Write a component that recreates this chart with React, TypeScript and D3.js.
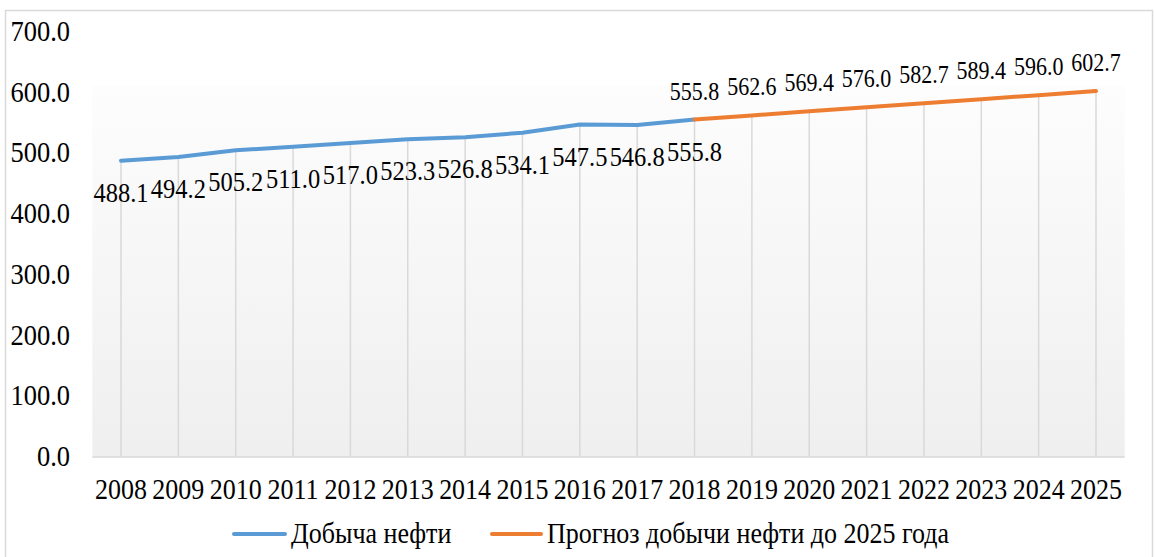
import React from "react";
import * as d3 from "d3";

const years = ["2008","2009","2010","2011","2012","2013","2014","2015","2016","2017","2018","2019","2020","2021","2022","2023","2024","2025"];
const histYears = ["2008","2009","2010","2011","2012","2013","2014","2015","2016","2017","2018"];
const histValues = [488.1, 494.2, 505.2, 511.0, 517.0, 523.3, 526.8, 534.1, 547.5, 546.8, 555.8];
const fcYears = ["2018","2019","2020","2021","2022","2023","2024","2025"];
const fcValues = [555.8, 562.6, 569.4, 576.0, 582.7, 589.4, 596.0, 602.7];
const yTicks = [0, 100, 200, 300, 400, 500, 600, 700];
const legendLabels = ["Добыча нефти", "Прогноз добычи нефти до 2025 года"];

const W = 1155, H = 557;
const FONT = "Times New Roman, Liberation Serif, DejaVu Serif, serif";
const BLUE = "#5b9bd5", ORANGE = "#ed7d31", GRID = "#d9d9d9";
const SY = 1.12;

function T({ x, y, anchor = "middle", size = 22, children }: any) {
  return (
    <text
      transform={`translate(${x},${y}) scale(1,${SY})`}
      textAnchor={anchor}
      style={{ fontFamily: FONT, fontSize: size }}
      fill="#000"
    >
      {children}
    </text>
  );
}

export default function App() {
  const x = d3.scalePoint<string>().domain(years).range([121, 1096]);
  const y = d3.scaleLinear().domain([0, 700]).range([457, 32]);
  const line = d3.line<[string, number]>().x(d => x(d[0])!).y(d => y(d[1]));
  const hist: [string, number][] = histYears.map((yr, i) => [yr, histValues[i]]);
  const fc: [string, number][] = fcYears.map((yr, i) => [yr, fcValues[i]]);
  const all: [string, number][] = [...hist, ...fc.slice(1)];
  const step = x.step();
  const left = x(years[0])! - step / 2;
  const right = x(years[years.length - 1])! + step / 2;

  return (
    <svg width={W} height={H} style={{ position: "absolute", left: 0, top: 0, background: "#fff" }}>
      <defs>
        <linearGradient id="pa" x1="0" y1="0" x2="0" y2="1">
          <stop offset="0%" stopColor="#fdfdfd" />
          <stop offset="100%" stopColor="#efefef" />
        </linearGradient>
      </defs>
      <rect x={5.5} y={10.5} width={1147} height={560} fill="#fff" stroke={GRID} strokeWidth={1.5} />
      <rect x={left} y={86} width={right - left} height={y(0) - 86} fill="url(#pa)" />
      {all.map(d => (
        <line key={"g" + d[0]} x1={x(d[0])} x2={x(d[0])} y1={y(d[1])} y2={y(0)} stroke={GRID} strokeWidth={1.5} />
      ))}
      <line x1={left} x2={right} y1={y(0)} y2={y(0)} stroke={GRID} strokeWidth={1.5} />
      {yTicks.map(t => (
        <T key={"y" + t} x={70} y={y(t) + 9} anchor="end" size={26.5}>{t.toFixed(1)}</T>
      ))}
      {years.map(yr => (
        <T key={"x" + yr} x={x(yr)} y={499} size={26}>{yr}</T>
      ))}
      <path d={line(hist)!} fill="none" stroke={BLUE} strokeWidth={4} strokeLinecap="round" strokeLinejoin="round" />
      <path d={line(fc)!} fill="none" stroke={ORANGE} strokeWidth={4} strokeLinecap="round" strokeLinejoin="round" />
      {hist.map(d => (
        <T key={"hl" + d[0]} x={x(d[0])} y={y(d[1]) + 41} size={24.5}>{d[1].toFixed(1)}</T>
      ))}
      {fc.map(d => (
        <T key={"fl" + d[0]} x={x(d[0])} y={y(d[1]) - 20} size={22}>{d[1].toFixed(1)}</T>
      ))}
      <line x1={234} x2={285} y1={534} y2={534} stroke={BLUE} strokeWidth={4} strokeLinecap="round" />
      <T x={291} y={543} anchor="start" size={26}>{legendLabels[0]}</T>
      <line x1={492} x2={541} y1={534} y2={534} stroke={ORANGE} strokeWidth={4} strokeLinecap="round" />
      <T x={547} y={543} anchor="start" size={26}>{legendLabels[1]}</T>
    </svg>
  );
}
